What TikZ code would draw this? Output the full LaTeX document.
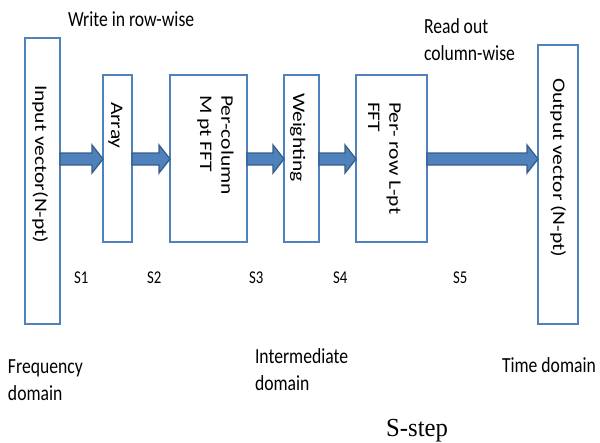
\documentclass[tikz,border=0pt]{standalone}
\usepackage{fontspec}
\setmainfont{Carlito}
\newfontfamily\serifcap{Liberation Serif}
\usetikzlibrary{calc}

\definecolor{boxblue}{RGB}{79,129,189}
\definecolor{arrowedge}{RGB}{56,93,138}

\tikzset{
  stagebox/.style={draw=boxblue, line width=2pt, fill=white, inner sep=0pt, outer sep=0pt},
  txt/.style={inner sep=0pt, outer sep=0pt, anchor=base west, align=left,
              font=\fontsize{21.5}{26.5}\selectfont, xscale=0.82},
  vtxt/.style={txt, font=\fontsize{21.5}{26.2}\selectfont, rotate=-90},
  steplabel/.style={inner sep=0pt, anchor=base west, font=\fontsize{18}{20}\selectfont, xscale=0.82},
  flowarrow/.style={fill=boxblue, draw=arrowedge, line width=1.3pt, line join=miter},
}

% thick block arrow from the east side of #1 to the west side of #2, on the flow line
\newcommand\blockarrow[2]{%
  \filldraw[flowarrow] let \p1=(#1.east |- flow), \p2=(#2.west |- flow) in
    (\x1,\y2+6pt) -- (\x2-11pt,\y2+6pt) -- (\x2-11pt,\y2+14pt) -- (\x2,\y2)
    -- (\x2-11pt,\y2-14pt) -- (\x2-11pt,\y2-6pt) -- (\x1,\y2-6pt) -- cycle;}

\begin{document}
\begin{tikzpicture}[x=1pt, y=-1pt]
  \useasboundingbox (0,0) rectangle (600,442);
  \coordinate (flow) at (0,159);

  % processing stages
  \node[stagebox, minimum width=35pt, minimum height=286pt] (input)  at (42.5,181) {};
  \node[stagebox, minimum width=29pt, minimum height=167pt] (array)  at (117.5,158.5) {};
  \node[stagebox, minimum width=77pt, minimum height=167pt] (percol) at (208.5,158.5) {};
  \node[stagebox, minimum width=35pt, minimum height=167pt] (weight) at (301.5,158.5) {};
  \node[stagebox, minimum width=71pt, minimum height=167pt] (perrow) at (391.5,158.5) {};
  \node[stagebox, minimum width=40pt, minimum height=279pt] (output) at (558,184.5) {};

  % stage captions, written top to bottom (anchored on the last line's baseline)
  \node[vtxt] (inputtxt)  at (35,85)   {Input vector(N-pt)};
  \node[vtxt] (arraytxt)  at (111,102) {Array};
  \node[vtxt] (percoltxt) at (200,95)  {Per-column\\M pt FFT};
  \node[vtxt] (weighttxt) at (293,93)  {Weighting};
  \node[vtxt] (perrowtxt) at (368,102) {Per- row L-pt\\FFT};
  \node[vtxt] (outputtxt) at (553,78)  {Output vector (N-pt)};

  % data flow between the stages
  \blockarrow{input}{array}
  \blockarrow{array}{percol}
  \blockarrow{percol}{weight}
  \blockarrow{weight}{perrow}
  \blockarrow{perrow}{output}

  % annotations
  \node[txt] (writein) at (68,26)  {Write in row-wise};
  \node[txt] (readout) at (424,60) {Read out\\column-wise};

  \node[steplabel] (s1) at (74,283)  {S1};
  \node[steplabel] (s2) at (147,283) {S2};
  \node[steplabel] (s3) at (249,283) {S3};
  \node[steplabel] (s4) at (333,283) {S4};
  \node[steplabel] (s5) at (453,283) {S5};

  \node[txt] (freq)  at (8,400)   {Frequency\\domain};
  \node[txt] (inter) at (255,390) {Intermediate\\domain};
  \node[txt] (timed) at (502,372) {Time domain};

  \node[inner sep=0pt, anchor=base west, font=\serifcap\fontsize{26}{30}\selectfont, xscale=0.95]
    (sstep) at (386,436) {S-step};
\end{tikzpicture}
\end{document}
